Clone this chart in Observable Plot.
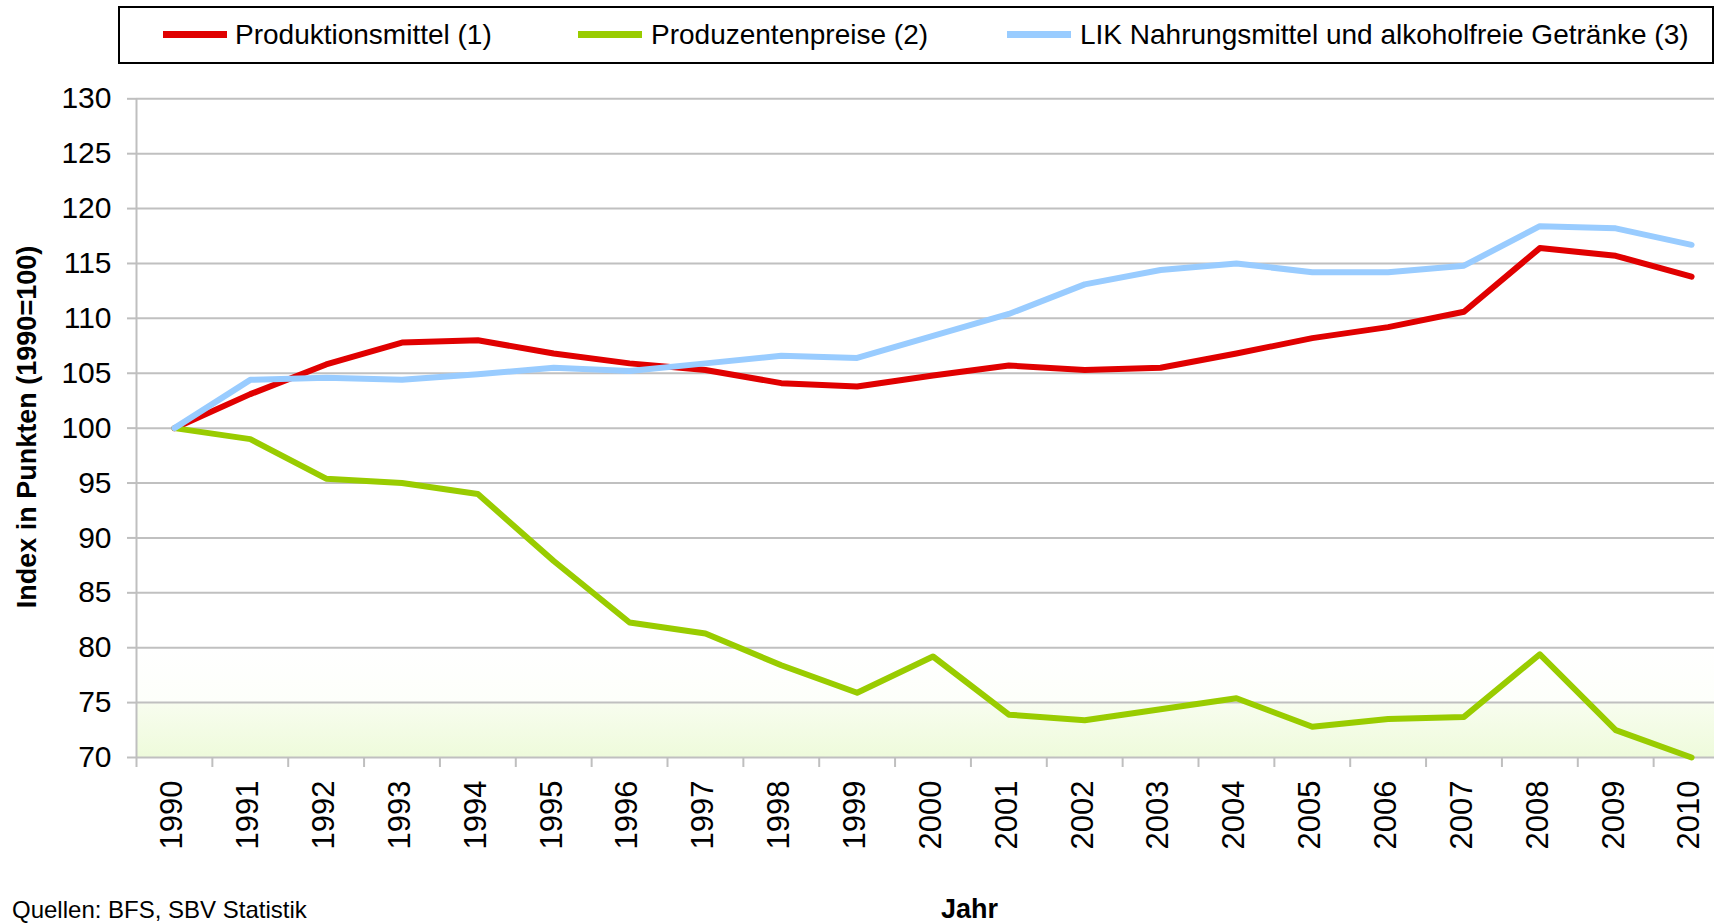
<!DOCTYPE html>
<html>
<head>
<meta charset="utf-8">
<script src="https://cdn.jsdelivr.net/npm/d3@7"></script>
<script src="https://cdn.jsdelivr.net/npm/@observablehq/plot@0.6"></script>
<style>
  html, body { margin: 0; padding: 0; background: #fff; overflow: hidden; }
  #wrap { position: relative; width: 1714px; height: 924px; overflow: hidden; font-family: "Liberation Sans", Arial, sans-serif; color: #000; }
  #chart { position: absolute; left: 0; top: 0; }
  .abs { position: absolute; white-space: nowrap; }
  #legend { position: absolute; left: 118px; top: 6px; width: 1596px; height: 58px; border: 2px solid #000; box-sizing: border-box; background: #fff; }
  .sw { position: absolute; height: 7px; width: 64px; }
  .lt { position: absolute; font-size: 28px; line-height: 28px; white-space: nowrap; }
</style>
</head>
<body>
<div id="wrap">
  <div id="chart"></div>
  <div id="legend"></div>
  <div class="abs" id="ytitle" style="left:27px; top:427px; font-weight:bold; font-size:27px; line-height:27px; transform: translate(-50%,-50%) rotate(-90deg);">Index in Punkten (1990=100)</div>
  <div class="abs" style="left:941px; top:896px; font-weight:bold; font-size:27px; line-height:27px;">Jahr</div>
  <div class="abs" style="left:12px; top:898px; font-size:24px; line-height:24px;">Quellen: BFS, SBV Statistik</div>
</div>
<script>
// ---- data ----
const years = [1990, 1991, 1992, 1993, 1994, 1995, 1996, 1997, 1998, 1999, 2000,
               2001, 2002, 2003, 2004, 2005, 2006, 2007, 2008, 2009, 2010];
const produktionsmittel = [100, 103.1, 105.8, 107.8, 108.0, 106.8, 105.9, 105.3, 104.1, 103.8, 104.8,
                           105.7, 105.3, 105.5, 106.8, 108.2, 109.2, 110.6, 116.4, 115.7, 113.8];
const produzentenpreise = [100, 99.0, 95.4, 95.0, 94.0, 87.9, 82.3, 81.3, 78.4, 75.9, 79.2,
                           73.9, 73.4, 74.4, 75.4, 72.8, 73.5, 73.7, 79.4, 72.5, 70.0];
const lik = [100, 104.4, 104.6, 104.4, 104.9, 105.5, 105.2, 105.9, 106.6, 106.4, 108.4,
             110.4, 113.1, 114.4, 115.0, 114.2, 114.2, 114.8, 118.4, 118.2, 116.7];
const yTicks = [70, 75, 80, 85, 90, 95, 100, 105, 110, 115, 120, 125, 130];
const seriesNames = ["Produktionsmittel (1)", "Produzentenpreise (2)", "LIK Nahrungsmittel und alkoholfreie Getränke (3)"];
const seriesColors = ["#e00000", "#99cc00", "#99ccff"];

// ---- build tables ----
const toRows = (vals) => years.map((y, i) => ({year: y, value: vals[i]}));
const rowsP = toRows(produktionsmittel);
const rowsZ = toRows(produzentenpreise);
const rowsL = toRows(lik);
const bandEdges = years.map(y => y - 0.5).concat([years[years.length - 1] + 0.5]);
const xDomain = [bandEdges[0], bandEdges[bandEdges.length - 1]];

const grey = "#bfbfbf";
const plot = Plot.plot({
  width: 1714,
  height: 924,
  marginLeft: 136,
  marginRight: 0,
  marginTop: 98,
  marginBottom: 167,
  style: {fontFamily: "'Liberation Sans', Arial, sans-serif", background: "transparent", overflow: "hidden"},
  x: {type: "linear", domain: xDomain, range: [136, 1729]},
  y: {domain: [yTicks[0], yTicks[yTicks.length - 1]], range: [757, 98.3]},
  marks: [
    Plot.rect([{}], {x1: xDomain[0], x2: xDomain[1], y1: 70, y2: 80, fill: "url(#bgGrad)"}),
    Plot.gridY(yTicks, {stroke: "#c0c0c0", strokeOpacity: 1, strokeWidth: 2}),
    Plot.ruleX([xDomain[0]], {y1: yTicks[0], y2: yTicks[yTicks.length - 1], stroke: grey, strokeWidth: 2}),
    Plot.axisY(yTicks, {tickSize: 9, tickPadding: 16, fontSize: 30, stroke: grey, strokeWidth: 2, label: null, tickFormat: d => String(d)}),
    Plot.axisX(bandEdges, {tickSize: 10, fill: "none", stroke: grey, strokeWidth: 2, label: null}),
    Plot.axisX(years, {tickSize: 0, tickPadding: 23, tickRotate: -90, fontSize: 31, label: null, dx: -2, tickFormat: d => String(d)}),
    Plot.line(rowsP, {x: "year", y: "value", stroke: seriesColors[0], strokeWidth: 6, strokeLinejoin: "round"}),
    Plot.line(rowsZ, {x: "year", y: "value", stroke: seriesColors[1], strokeWidth: 6, strokeLinejoin: "round"}),
    Plot.line(rowsL, {x: "year", y: "value", stroke: seriesColors[2], strokeWidth: 6, strokeLinejoin: "round"})
  ]
});

d3.select(plot).insert("defs", ":first-child").html(
  '<linearGradient id="bgGrad" x1="0" y1="0" x2="0" y2="1">' +
  '<stop offset="0" stop-color="#ffffff"/>' +
  '<stop offset="0.5" stop-color="#fdfffa"/>' +
  '<stop offset="0.5" stop-color="#f8fdef"/>' +
  '<stop offset="1" stop-color="#eefbdb"/>' +
  '</linearGradient>'
);
document.getElementById("chart").appendChild(plot);

// ---- legend ----
const legend = document.getElementById("legend");
const swLeft = [161, 576, 1005];
const txLeft = [233, 649, 1078];
seriesNames.forEach((name, i) => {
  const sw = document.createElement("div");
  sw.className = "sw";
  sw.style.left = (swLeft[i] - 118) + "px";
  sw.style.top = (29 - 6) + "px";
  sw.style.background = seriesColors[i];
  legend.appendChild(sw);
  const t = document.createElement("div");
  t.className = "lt";
  t.style.left = (txLeft[i] - 118) + "px";
  t.style.top = (19 - 6) + "px";
  t.textContent = name;
  legend.appendChild(t);
});
</script>
</body>
</html>
